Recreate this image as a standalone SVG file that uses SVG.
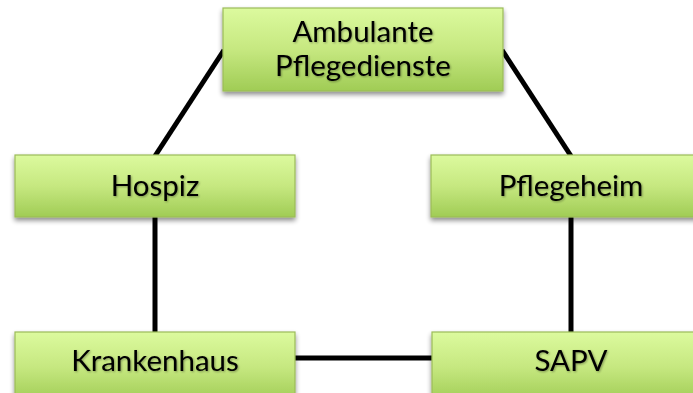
<svg xmlns="http://www.w3.org/2000/svg" width="693" height="393" viewBox="0 0 693 393">
<defs>
<linearGradient id="g" x1="0" y1="0" x2="0" y2="1">
<stop offset="0" stop-color="#dcfa9e"/>
<stop offset="0.5" stop-color="#c6e880"/>
<stop offset="1" stop-color="#a0cc55"/>
</linearGradient>
<filter id="sh" x="-10%" y="-20%" width="120%" height="150%">
<feGaussianBlur in="SourceAlpha" stdDeviation="2.5"/>
<feOffset dx="0" dy="3" result="b"/>
<feComponentTransfer><feFuncA type="linear" slope="0.45"/></feComponentTransfer>
<feMerge><feMergeNode/><feMergeNode in="SourceGraphic"/></feMerge>
</filter>
<filter id="ts" x="-5%" y="-20%" width="110%" height="140%">
<feGaussianBlur in="SourceAlpha" stdDeviation="0.8"/>
<feOffset dx="0.5" dy="1" result="b"/>
<feComponentTransfer><feFuncA type="linear" slope="0.35"/></feComponentTransfer>
<feMerge><feMergeNode/><feMergeNode in="SourceGraphic"/></feMerge>
</filter>
</defs>
<style>
.box{fill:url(#g);stroke:#9bbb59;stroke-width:1.2;filter:url(#sh)}
.t{font-family:Lato,"Open Sans",sans-serif;font-size:29.5px;fill:#000;text-anchor:middle;filter:url(#ts)}
.c{stroke:#000;stroke-width:5;fill:none}
</style>
<g id="connectors">
<line class="c" x1="224" y1="50" x2="155" y2="156"/>
<line class="c" x1="502" y1="50" x2="571" y2="156"/>
<line class="c" x1="155" y1="217" x2="155" y2="332"/>
<line class="c" x1="571" y1="217" x2="571" y2="332"/>
<line class="c" x1="295" y1="358" x2="433" y2="358"/>
</g>
<g id="ambulante">
<rect class="box" x="223" y="8" width="280" height="83"/>
<text class="t" x="363" y="42">Ambulante</text>
<text class="t" x="363" y="76">Pflegedienste</text>
</g>
<g id="hospiz">
<rect class="box" x="15" y="155" width="280" height="62"/>
<text class="t" x="155" y="196">Hospiz</text>
</g>
<g id="pflegeheim">
<rect class="box" x="431" y="155" width="280" height="62"/>
<text class="t" x="571" y="196">Pflegeheim</text>
</g>
<g id="krankenhaus">
<rect class="box" x="15" y="332" width="280" height="70"/>
<text class="t" x="155" y="371">Krankenhaus</text>
</g>
<g id="sapv">
<rect class="box" x="432" y="332" width="280" height="70"/>
<text class="t" x="571" y="371">SAPV</text>
</g>
</svg>
